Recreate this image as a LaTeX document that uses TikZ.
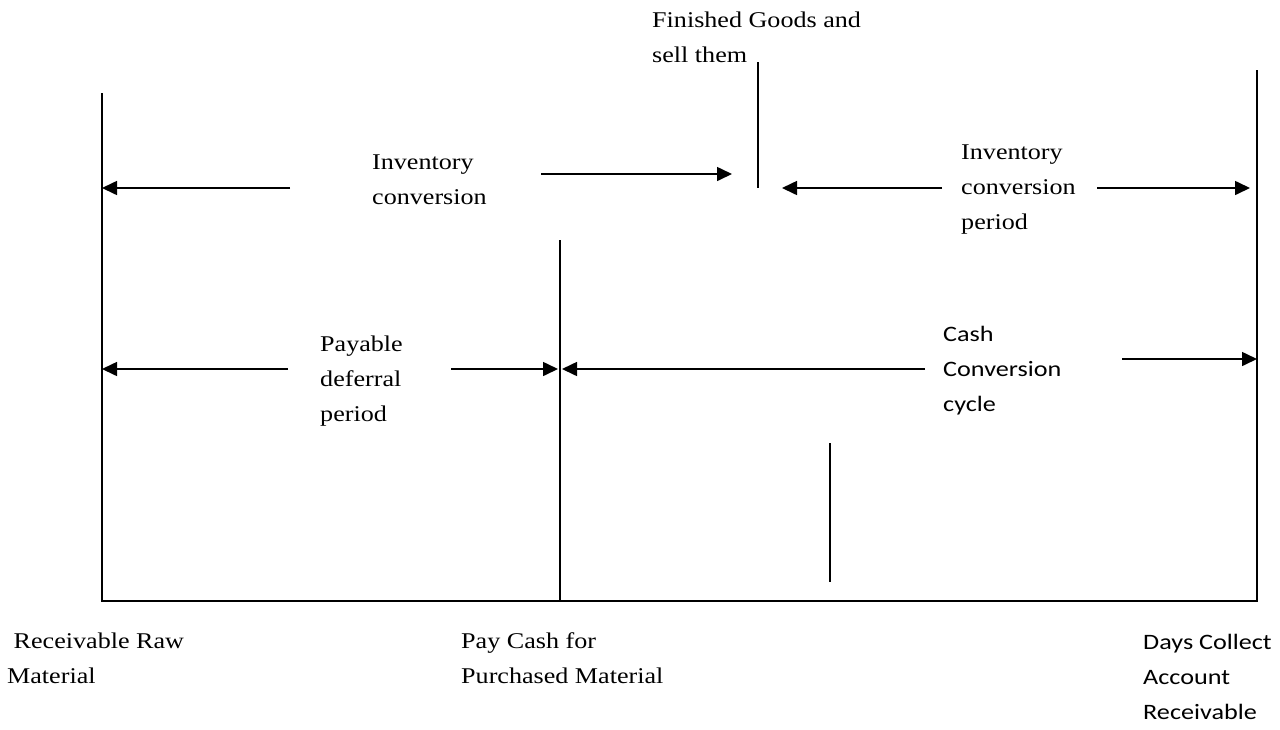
\documentclass[tikz,border=0pt]{standalone}
\usepackage{fontspec}
\setmainfont{Liberation Serif}[FakeStretch=1.16]
\newfontfamily\calibrifont{Carlito}[FakeStretch=1.19]
\usetikzlibrary{arrows.meta}
\tikzset{
  bar_line/.style = {draw=black, line width=1.6pt},
  span_arrow/.style = {draw=black, line width=1.6pt,
    -{Triangle[length=15pt,width=14pt]}},% fleche de periode
  serif_label/.style = {align=left, inner sep=0pt, anchor=base west,
    font=\fontsize{22.5}{35}\selectfont},
  sans_label/.style = {align=left, inner sep=0pt, anchor=base west,
    font=\calibrifont\fontsize{22}{35}\selectfont}
}
\begin{document}
\begin{tikzpicture}[x=1pt, y=1pt]
  \useasboundingbox (0,0) rectangle (1280,-729);
  % reperes verticaux
  \coordinate (raw_top) at (102,-93);
  \coordinate (raw_bot) at (102,-601);
  \coordinate (pay_top) at (560,-240);
  \coordinate (pay_bot) at (560,-601);
  \coordinate (days_top) at (1257,-70);
  \coordinate (days_bot) at (1257,-601);
  \coordinate (goods_top) at (758,-62);
  \coordinate (goods_bot) at (758,-188);
  \coordinate (cycle_top) at (830,-443);
  \coordinate (cycle_bot) at (830,-582);
  \draw[bar_line] (raw_top) -- (raw_bot) -- (days_bot) -- (days_top);
  \draw[bar_line] (pay_top) -- (pay_bot);
  \draw[bar_line] (goods_top) -- (goods_bot);
  \draw[bar_line] (cycle_top) -- (cycle_bot);
  % fleches
  \coordinate (inv1_a) at (290,-188);
  \coordinate (inv1_b) at (541,-174);
  \coordinate (inv1_c) at (732,-174);
  \coordinate (inv2_a) at (942,-188);
  \coordinate (inv2_b) at (782,-188);
  \coordinate (inv2_c) at (1097,-188);
  \coordinate (inv2_d) at (1250,-188);
  \coordinate (pay_a) at (288,-369);
  \coordinate (pay_b) at (451,-369);
  \coordinate (pay_c) at (558,-369);
  \coordinate (cash_a) at (925,-369);
  \coordinate (cash_b) at (562,-369);
  \coordinate (cash_c) at (1122,-359);
  \draw[span_arrow] (inv1_a) -- (raw_top |- inv1_a);
  \draw[span_arrow] (inv1_b) -- (inv1_c);
  \draw[span_arrow] (inv2_a) -- (inv2_b);
  \draw[span_arrow] (inv2_c) -- (inv2_d);
  \draw[span_arrow] (pay_a) -- (raw_top |- pay_a);
  \draw[span_arrow] (pay_b) -- (pay_c);
  \draw[span_arrow] (cash_a) -- (cash_b);
  \draw[span_arrow] (cash_c) -- (days_top |- cash_c);
  % textes (base = derniere ligne)
  \node[serif_label] (goods_txt) at (652,-62) {Finished Goods and\\sell them};
  \node[serif_label] (inv1_txt) at (372,-204) {Inventory\\conversion};
  \node[serif_label] (inv2_txt) at (961,-229) {Inventory\\conversion\\period};
  \node[serif_label] (pay_txt) at (320,-421) {Payable\\deferral\\period};
  \node[sans_label] (cash_txt) at (943,-411) {Cash\\Conversion\\cycle};
  \node[serif_label] (raw_txt) at (7,-683) {\ Receivable Raw\\Material};
  \node[serif_label] (paycash_txt) at (461,-683) {Pay Cash for\\Purchased Material};
  \node[sans_label] (days_txt) at (1143,-719) {Days Collect\\Account\\Receivable};
\end{tikzpicture}
\end{document}
